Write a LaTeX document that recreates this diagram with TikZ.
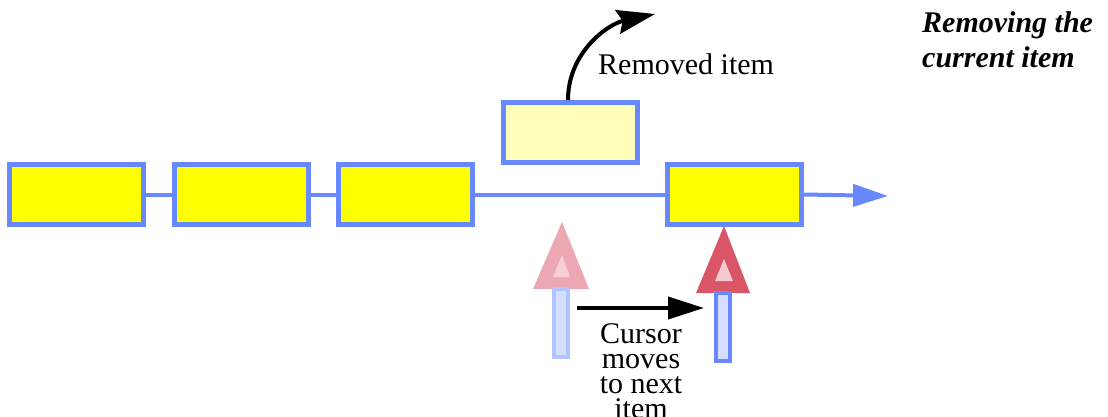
\documentclass[tikz,border=0pt]{standalone}
\usepackage{fontspec}
\setmainfont{Liberation Serif}
\usetikzlibrary{positioning,arrows.meta}

\definecolor{chainblue}{RGB}{104,136,255}
\definecolor{itemyellow}{RGB}{255,255,0}
\definecolor{paleyellow}{RGB}{255,255,187}
\definecolor{stemfill}{RGB}{213,222,255}
\definecolor{stemold}{RGB}{178,196,255}
\definecolor{curold}{RGB}{236,168,178}
\definecolor{curoldin}{RGB}{246,206,212}
\definecolor{curnew}{RGB}{218,85,102}
\definecolor{curnewin}{RGB}{244,202,207}

\begin{document}
\begin{tikzpicture}[
    x=1pt, y=-1pt,
    item/.style={draw=chainblue, fill=itemyellow, line width=5pt, minimum width=134pt, minimum height=60pt, inner sep=0pt},
    gone/.style={item, fill=paleyellow},
    link/.style={draw=chainblue, line width=4pt},
    label/.style={font=\fontsize{30}{25}\selectfont, inner sep=0pt},
    >={Triangle[length=36pt,width=22pt]}
]
\useasboundingbox (0,0) rectangle (1108,417);

% cursors (drawn first, the list sits on top)
\coordinate (oldcur) at (562,222);
\coordinate (newcur) at (724,226);
\begin{scope}[shift={(oldcur)}]
  \fill[curold] (-29,67) -- (27,67) -- (0,0) -- cycle;
  \fill[curoldin] (-9,55) -- (8,55) -- (0,33) -- cycle;
  \draw[stemold, fill=stemfill, line width=4pt] (-8,67) rectangle (6,135);
\end{scope}
\begin{scope}[shift={(newcur)}]
  \fill[curnew] (-28,67) -- (26,67) -- (0,0) -- cycle;
  \fill[curnewin] (-9,55) -- (9,55) -- (0,33) -- cycle;
  \draw[chainblue, fill=stemfill, line width=4pt] (-8,67) rectangle (6,135);
\end{scope}

\node[item] (first) at (76.5,194.5) {};
\node[item] (second) at (241.5,194.5) {};
\node[item] (third) at (405.5,194.5) {};
\node[item] (next) at (734,194.5) {};
\node[gone] (removed) at (570,132.5) {};
\coordinate (chainend) at (888,196);

\draw[link] (first.east) -- (second.west);
\draw[link] (second.east) -- (third.west);
\draw[link] (third.east) -- (next.west);
\draw[link, ->, chainblue, >={Triangle[length=35pt,width=22pt]}] (next.east) -- (chainend);

% removed item leaves the list
\coordinate (outtip) at (655,14);
\draw[line width=4pt, -{Stealth[length=38pt,width=24pt,inset=5pt]}] ([xshift=-2pt]removed.north) to[out=90,in=192] (outtip);
\node[label, anchor=base west] (remlabel) at (598,75) {Removed item};

% cursor step
\coordinate (stepfrom) at (577,308);
\coordinate (stepto) at (704,308);
\draw[line width=4pt, ->] (stepfrom) -- (stepto);
\node[label, anchor=base, align=center] (steplabel) at (641,418) {Cursor\\moves\\to next\\item};

\node[font=\fontsize{30}{35}\selectfont\bfseries\itshape, anchor=base west, align=left, inner sep=0pt] (title) at (922,68) {Removing the\\current item};
\end{tikzpicture}
\end{document}
